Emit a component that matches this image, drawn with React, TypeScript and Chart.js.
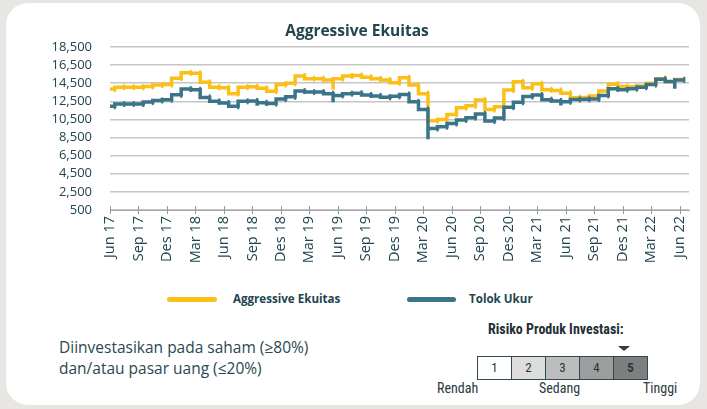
import React, { useEffect, useRef } from "react";
import { Chart, registerables } from "chart.js";

Chart.register(...registerables);

const tickLabels = [
  "Jun 17", "Sep 17", "Des 17", "Mar 18", "Jun 18", "Sep 18", "Des 18",
  "Mar 19", "Jun 19", "Sep 19", "Des 19", "Mar 20", "Jun 20", "Sep 20",
  "Des 20", "Mar 21", "Jun 21", "Sep 21", "Des 21", "Mar 22", "Jun 22",
];
const yTickValues = [500, 2500, 4500, 6500, 8500, 10500, 12500, 14500, 16500, 18500];

// monthly values, index 0 = Jun 17 ... 60 = Jun 22
const aggressiveValues = [
  13850, 14060, 14060, 14050, 14150, 14300, 14350, 15050, 15650, 15600,
  14600, 14050, 14000, 13350, 14060, 14100, 13950, 13620, 14350, 14500,
  15300, 15000, 15000, 14860, 15000, 15300, 15350, 15150, 15000, 14850,
  14550, 15100, 14300, 13350, 10350, 10500, 11050, 11800, 12000, 12650,
  11600, 11900, 13750, 14650, 14000, 14450, 13770, 13700, 13400, 12900,
  12930, 13100, 13630, 14400, 14130, 14100, 14200, 14500, 15000, 14650,
  14900,
];
const tolokValues = [
  11950, 12200, 12200, 12200, 12420, 12600, 12680, 13220, 13850, 13770,
  12930, 12500, 12320, 11950, 12500, 12550, 12350, 12250, 12750, 13000,
  13630, 13520, 13520, 13350, 13150, 13350, 13400, 13200, 13100, 12950,
  13050, 13250, 12450, 11600, 9500, 9700, 10050, 10450, 10700, 11100,
  10330, 10650, 11850, 12400, 13040, 13200, 12680, 12550, 12450, 12700,
  12720, 12750, 13150, 13880, 13780, 13900, 14050, 14350, 14950, 14700,
  14860,
];
// brief intra-month dips: [month position, value]
const aggressiveDips: [number, number][] = [[23.5, 13800]];
const tolokDips: [number, number][] = [
  [15.5, 12000], [16.5, 12000], [23.5, 12400], [33.5, 8300], [47.5, 12050], [59.5, 13900],
];

const seriesNames = ["Aggressive Ekuitas", "Tolok Ukur"];
const riskLevels = ["1", "2", "3", "4", "5"];
const riskLabels = ["Rendah", "Sedang", "Tinggi"];

const YELLOW = "#fcbf17";
const TEAL = "#3b7489";
const TEXT = "#214450";
const FONT = "'Open Sans', Lato, sans-serif";
const NARROW = "'Liberation Sans Narrow', 'Roboto Condensed', 'Liberation Sans', sans-serif";

type Pt = { x: number; y: number; mark: boolean };

function buildSteps(values: number[], dips: [number, number][]): Pt[] {
  const pts: Pt[] = [];
  values.forEach((v, i) => {
    pts.push({ x: Math.max(0, i - 0.5), y: v, mark: false });
    pts.push({ x: i + 0.5, y: v, mark: true });
    const d = dips.find((dd) => Math.abs(dd[0] - (i + 0.5)) < 1e-6);
    if (d) pts.push({ x: d[0], y: d[1], mark: false });
  });
  return pts;
}

const crossTicks = {
  id: "crossTicks",
  beforeDatasetsDraw(chart: any) {
    const { ctx, scales, chartArea } = chart;
    const x = scales.x;
    ctx.save();
    ctx.strokeStyle = "#9a9a9a";
    ctx.lineWidth = 1;
    x.ticks.forEach((t: any) => {
      const px = Math.round(x.getPixelForValue(t.value)) + 0.5;
      ctx.beginPath();
      ctx.moveTo(px, chartArea.bottom - 4);
      ctx.lineTo(px, chartArea.bottom + 4);
      ctx.stroke();
    });
    ctx.restore();
  },
};

function lineDataset(label: string, color: string, values: number[], dips: [number, number][]) {
  return {
    label,
    data: buildSteps(values, dips),
    borderColor: color,
    backgroundColor: color,
    borderWidth: 3.5,
    borderJoinStyle: "miter" as const,
    tension: 0,
    pointStyle: "line" as const,
    pointRotation: 90,
    pointBorderColor: color,
    pointBorderWidth: 2,
    pointRadius: (c: any) => (c.raw && c.raw.mark ? 3 : 0),
    pointHoverRadius: 0,
    fill: false,
  };
}

export default function App() {
  const ref = useRef<HTMLCanvasElement>(null);

  useEffect(() => {
    const chart = new Chart(ref.current as HTMLCanvasElement, {
      type: "line",
      data: {
        datasets: [
          lineDataset(seriesNames[1], TEAL, tolokValues, tolokDips),
          lineDataset(seriesNames[0], YELLOW, aggressiveValues, aggressiveDips),
        ] as any,
      },
      options: {
        responsive: false,
        animation: false,
        devicePixelRatio: 1,
        layout: { padding: { left: 0, right: 18, top: 47, bottom: 0 } },
        plugins: {
          legend: { display: false },
          tooltip: { enabled: false },
          title: { display: false },
        },
        scales: {
          x: {
            type: "linear",
            min: 0,
            max: 61,
            afterBuildTicks: (s: any) => {
              s.ticks = tickLabels.map((_, k) => ({ value: k * 3 }));
            },
            afterFit: (s: any) => {
              s.height = 70;
            },
            ticks: {
              autoSkip: false,
              minRotation: 90,
              maxRotation: 90,
              padding: 6,
              color: TEXT,
              font: { family: FONT, size: 14.5 },
              callback: (v: any) => tickLabels[Math.round(Number(v) / 3)] ?? "",
            },
            grid: { display: false, drawTicks: false },
            border: { display: true, color: "#a6a6a6", width: 1 },
          },
          y: {
            min: 500,
            max: 18500,
            afterBuildTicks: (s: any) => {
              s.ticks = yTickValues.map((v) => ({ value: v }));
            },
            afterFit: (s: any) => {
              s.width = 110;
            },
            ticks: {
              autoSkip: false,
              padding: 18,
              color: TEXT,
              font: { family: FONT, size: 13 },
              callback: (v: any) => Number(v).toLocaleString("en-US"),
            },
            grid: { color: "#c6c6c6", lineWidth: 1.5, drawTicks: false },
            border: { display: false },
          },
        },
      } as any,
      plugins: [crossTicks],
    });
    return () => chart.destroy();
  }, []);

  const cellColors = ["#ffffff", "#dddddd", "#bdbdbd", "#9d9d9d", "#7f7f7f"];

  return (
    <div
      style={{
        position: "fixed",
        left: 0,
        top: 0,
        width: 707,
        height: 409,
        background: "#e8e6e3",
        overflow: "hidden",
        fontFamily: FONT,
        color: TEXT,
      }}
    >
      <div
        style={{
          position: "absolute",
          left: 6,
          top: 3,
          width: 694,
          height: 402,
          background: "#ffffff",
          borderRadius: 22,
        }}
      />
      <canvas
        ref={ref}
        width={707}
        height={280}
        style={{ position: "absolute", left: 0, top: 0, width: 707, height: 280 }}
      />
      <div
        style={{
          position: "absolute",
          left: 0,
          width: 714,
          top: 20,
          lineHeight: "20px",
          textAlign: "center",
          fontWeight: 700,
          fontSize: 15.5,
        }}
      >
        Aggressive Ekuitas
      </div>

      {/* legend */}
      <div style={{ position: "absolute", left: 167, top: 297, width: 50, height: 5, borderRadius: 3, background: YELLOW }} />
      <div style={{ position: "absolute", left: 233, top: 290, lineHeight: "18px", fontWeight: 700, fontSize: 11.6 }}>
        {seriesNames[0]}
      </div>
      <div style={{ position: "absolute", left: 407, top: 297, width: 49, height: 5, borderRadius: 3, background: TEAL }} />
      <div style={{ position: "absolute", left: 469, top: 290, lineHeight: "18px", fontWeight: 700, fontSize: 11.6 }}>
        {seriesNames[1]}
      </div>

      {/* description */}
      <div style={{ position: "absolute", left: 59, top: 337, fontSize: 15.5, lineHeight: "21px", color: "#2a4752" }}>
        Diinvestasikan pada saham (≥80%)
        <br />
        dan/atau pasar uang (≤20%)
      </div>

      {/* risk */}
      <div
        style={{
          position: "absolute",
          left: 488,
          top: 320,
          lineHeight: "18px",
          fontFamily: NARROW,
          fontWeight: 700,
          fontSize: 14,
          color: "#1f2f35",
        }}
      >
        Risiko Produk Investasi:
      </div>
      <div
        style={{
          position: "absolute",
          left: 618,
          top: 346,
          width: 0,
          height: 0,
          borderLeft: "6px solid transparent",
          borderRight: "6px solid transparent",
          borderTop: "5px solid #2c3f46",
        }}
      />
      <div
        style={{
          position: "absolute",
          left: 477,
          top: 356,
          display: "flex",
          border: "1px solid #2f4a52",
        }}
      >
        {riskLevels.map((r, i) => (
          <div
            key={r}
            style={{
              width: 33,
              height: 22,
              background: cellColors[i],
              borderLeft: i === 0 ? "none" : "1px solid #2f4a52",
              textAlign: "center",
              lineHeight: "22px",
              fontFamily: NARROW,
              fontSize: 13,
              fontWeight: i === 4 ? 700 : 400,
              color: "#26363c",
            }}
          >
            {r}
          </div>
        ))}
      </div>
      <div style={{ position: "absolute", left: 437, top: 380, lineHeight: "16px", fontFamily: NARROW, fontSize: 14, color: "#2a3b41" }}>
        {riskLabels[0]}
      </div>
      <div style={{ position: "absolute", left: 539, top: 380, lineHeight: "16px", fontFamily: NARROW, fontSize: 14, color: "#2a3b41" }}>
        {riskLabels[1]}
      </div>
      <div style={{ position: "absolute", left: 643, top: 380, lineHeight: "16px", fontFamily: NARROW, fontSize: 14, color: "#2a3b41" }}>
        {riskLabels[2]}
      </div>
    </div>
  );
}
